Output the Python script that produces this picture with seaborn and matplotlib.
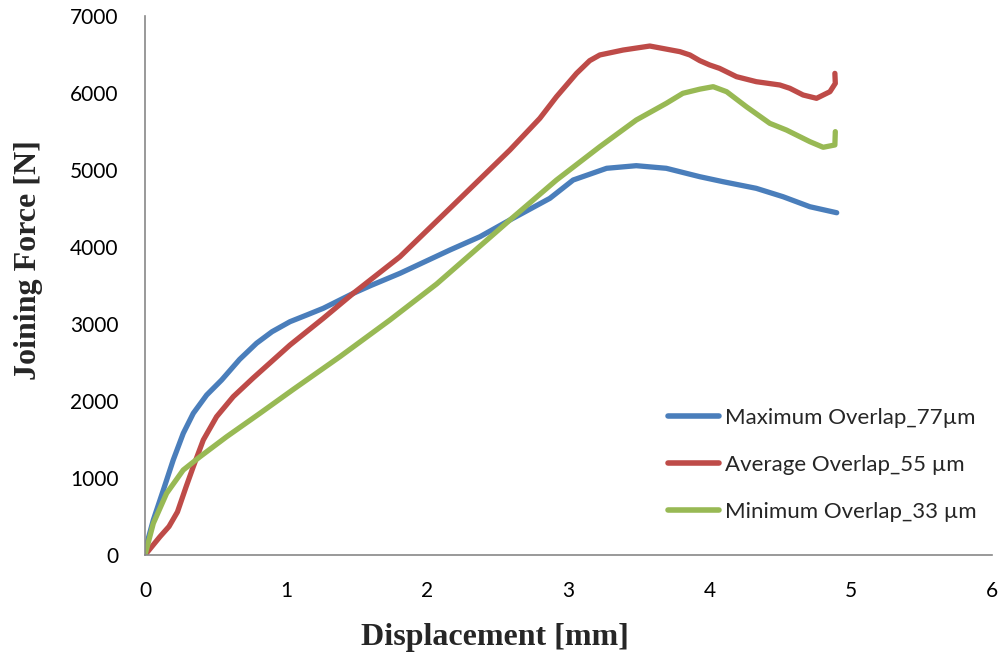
import matplotlib
matplotlib.use("Agg")
import matplotlib.pyplot as plt
import seaborn as sns
import pandas as pd

# ---- data ----
max_x = [0.0, 0.059, 0.13, 0.20, 0.271, 0.342, 0.437, 0.543, 0.67, 0.79, 0.90, 1.027, 1.15,
         1.263, 1.475, 1.60, 1.806, 2.16, 2.373, 2.585, 2.868, 3.033, 3.27, 3.48, 3.693,
         3.93, 4.095, 4.33, 4.52, 4.71, 4.90]
max_y = [60, 455, 844, 1234, 1580, 1840, 2078, 2273, 2540, 2750, 2900, 3030, 3120,
         3204, 3398, 3500, 3658, 3961, 4134, 4351, 4632, 4870, 5022, 5056, 5022,
         4913, 4848, 4762, 4653, 4523, 4445]

avg_x = [0.0, 0.106, 0.17, 0.23, 0.29, 0.342, 0.413, 0.507, 0.625, 0.767, 1.027, 1.263, 1.475,
         1.806, 2.16, 2.585, 2.797, 2.915, 3.057, 3.15, 3.222, 3.387, 3.576, 3.789, 3.86,
         3.93, 4.0, 4.07, 4.19, 4.33, 4.497, 4.568, 4.662, 4.757, 4.852, 4.89, 4.887]
avg_y = [0, 238, 370, 560, 880, 1147, 1494, 1796, 2056, 2300, 2727, 3074, 3398,
         3874, 4502, 5260, 5671, 5952, 6255, 6420, 6494, 6558, 6610, 6537, 6494,
         6420, 6364, 6320, 6212, 6147, 6104, 6061, 5974, 5931, 6017, 6125, 6255]

min_x = [0.0, 0.059, 0.153, 0.271, 0.39, 0.579, 0.814, 1.05, 1.381, 1.735, 2.066, 2.585,
         2.915, 3.222, 3.48, 3.693, 3.81, 3.93, 4.025, 4.12, 4.26, 4.426, 4.544, 4.71,
         4.804, 4.887, 4.89]
min_y = [0, 411, 801, 1104, 1277, 1537, 1840, 2150, 2576, 3052, 3520, 4351,
         4870, 5303, 5649, 5866, 5996, 6050, 6082, 6017, 5822, 5606, 5519, 5368,
         5295, 5325, 5498]

series_names = ["Maximum Overlap_77\u00b5m", "Average Overlap_55 \u00b5m", "Minimum Overlap_33 \u00b5m"]
colors = ["#4a7ebb", "#be4b48", "#98b954"]

x_ticks = [0, 1, 2, 3, 4, 5, 6]
y_ticks = [0, 1000, 2000, 3000, 4000, 5000, 6000, 7000]

frames = []
for name, xs, ys in zip(series_names, [max_x, avg_x, min_x], [max_y, avg_y, min_y]):
    d = pd.DataFrame({"Displacement": xs, "Force": ys})
    d["Series"] = name
    frames.append(d)
df = pd.concat(frames, ignore_index=True)

sns.set_theme(style="white")
plt.rcParams["font.family"] = ["Lato", "DejaVu Sans"]

fig = plt.figure(figsize=(10.05, 6.61), dpi=100)
ax = fig.add_axes([145 / 1005, 1 - 555 / 661, (992 - 145) / 1005, (555 - 16) / 661])

sns.lineplot(data=df, x="Displacement", y="Force", hue="Series", hue_order=series_names,
             palette=colors, sort=False, estimator=None, linewidth=3.8,
             ax=ax, solid_capstyle="round", solid_joinstyle="round")

ax.set_xlim(0, 6)
ax.set_ylim(0, 7000)
ax.set_xticks(x_ticks)
ax.set_yticks(y_ticks)
ax.set_xticklabels([str(t) for t in x_ticks])
ax.set_yticklabels([str(t) for t in y_ticks])
ax.tick_params(axis="both", length=0, labelsize=15, colors="black")
ax.tick_params(axis="x", pad=19)
ax.tick_params(axis="y", pad=19)

for s in ["top", "right"]:
    ax.spines[s].set_visible(False)
for s in ["left", "bottom"]:
    ax.spines[s].set_color("#888888")
    ax.spines[s].set_linewidth(1.2)
ax.grid(False)

ax.set_xlabel("Displacement [mm]", family=["Liberation Serif"], fontweight="bold", fontsize=23)
ax.set_ylabel("Joining Force [N]", family=["Liberation Serif"], fontweight="bold", fontsize=23)
ax.xaxis.set_label_coords(0.413, -0.127)
ax.yaxis.set_label_coords(-0.121, 0.547)

leg = ax.legend(loc="center left", bbox_to_anchor=((668 - 145) / 847, (555 - 465) / 539),
                frameon=False, fontsize=16, handlelength=2.3, handletextpad=0.25,
                labelspacing=1.22, borderaxespad=0, borderpad=0)
for line in leg.get_lines():
    line.set_linewidth(4)
    line.set_solid_capstyle("round")

fig.savefig("out.png", dpi=100)
